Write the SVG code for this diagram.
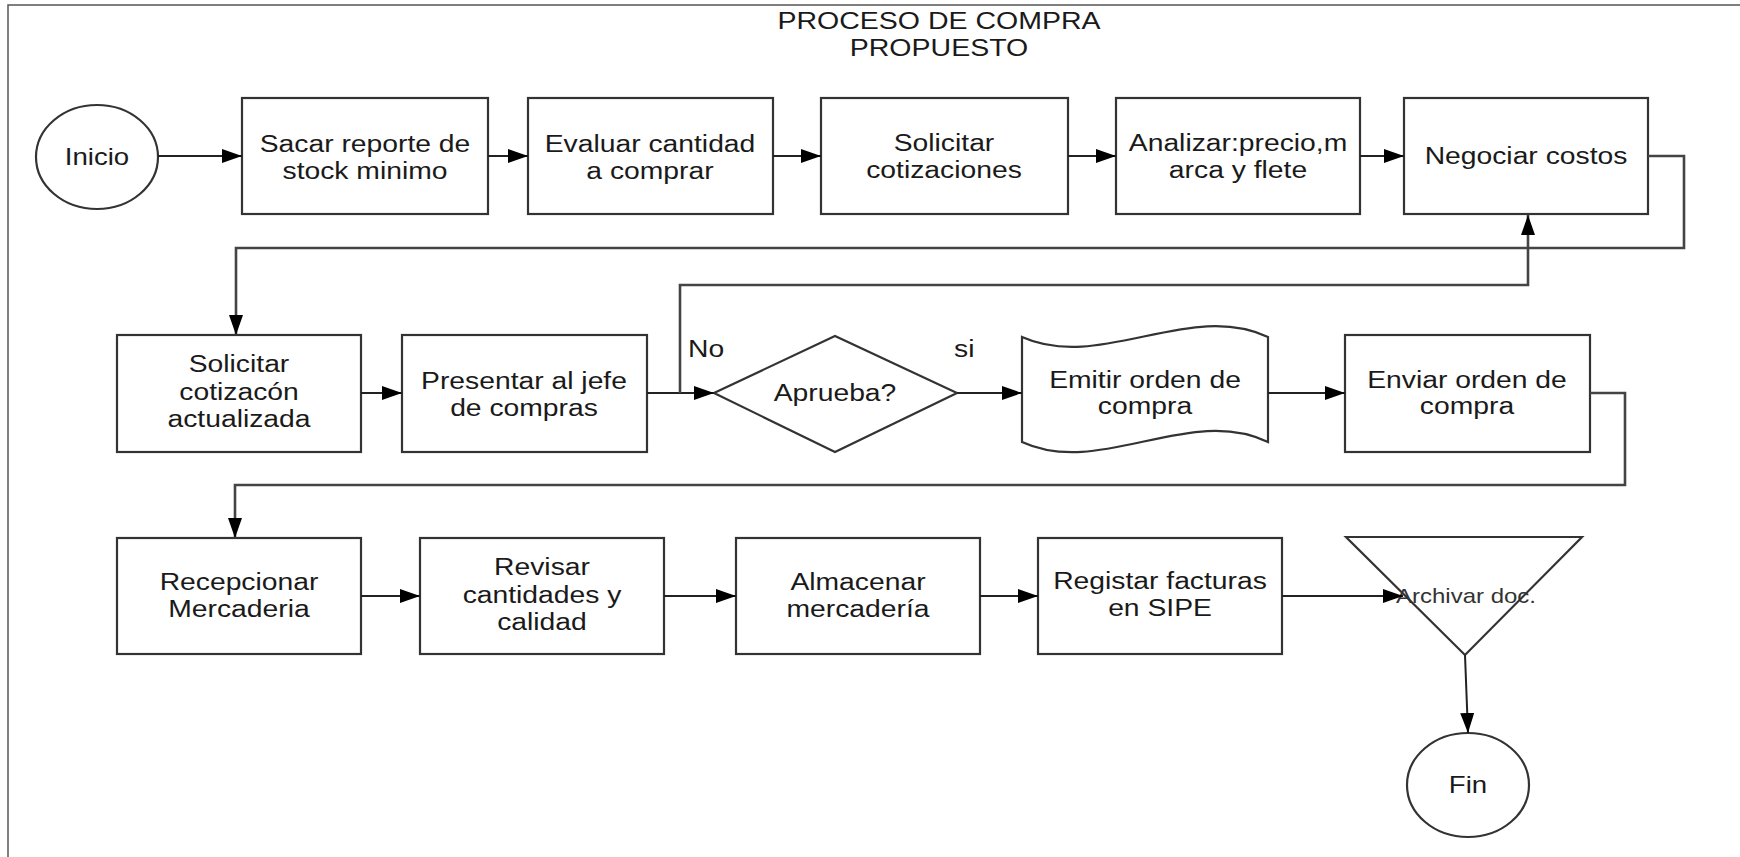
<svg xmlns="http://www.w3.org/2000/svg" width="1740" height="857" viewBox="0 0 1740 857">
<style>
.bg{fill:#fff}
.frame{fill:none;stroke:#555;stroke-width:1.5}
.box{fill:#fff;stroke:#333;stroke-width:2.2}
.t{font-family:"Liberation Sans",Arial,Helvetica,sans-serif;font-size:23px;fill:#1a1a1a;text-anchor:middle}
.ts{font-family:"Liberation Sans",Arial,Helvetica,sans-serif;font-size:20px;fill:#333;text-anchor:middle}
.lbl{font-family:"Liberation Sans",Arial,Helvetica,sans-serif;font-size:23px;fill:#1a1a1a}
.c{fill:none;stroke:#222;stroke-width:2}
.loop{fill:none;stroke:#444;stroke-width:2.6}
</style>
<defs>
<marker id="arr" markerUnits="userSpaceOnUse" markerWidth="20" markerHeight="14" refX="20" refY="7" orient="auto">
<path d="M0,0 L20,7 L0,14 Z" fill="#000"/>
</marker>
</defs>
<rect class="bg" x="0" y="0" width="1740" height="857"/>
<path class="frame" d="M8,857 V5 H1740"/>

<g id="title">
<text class="t" fill="#222" transform="translate(939,0) scale(1.24,1)"><tspan x="0" y="29">PROCESO DE COMPRA</tspan><tspan x="0" y="56">PROPUESTO</tspan></text>
</g>

<g id="n-inicio">
<ellipse class="box" cx="97" cy="157" rx="61" ry="52"/>
<text class="t" transform="translate(97,0) scale(1.2,1)" x="0" y="165">Inicio</text>
</g>
<g id="n-sacar">
<rect class="box" x="242" y="98" width="246" height="116"/>
<text class="t" transform="translate(365,0) scale(1.23,1)"><tspan x="0" y="152">Sacar reporte de</tspan><tspan x="0" y="179">stock minimo</tspan></text>
</g>
<g id="n-evaluar">
<rect class="box" x="528" y="98" width="245" height="116"/>
<text class="t" transform="translate(650,0) scale(1.23,1)"><tspan x="0" y="152">Evaluar cantidad</tspan><tspan x="0" y="179">a comprar</tspan></text>
</g>
<g id="n-solicitar">
<rect class="box" x="821" y="98" width="247" height="116"/>
<text class="t" transform="translate(944,0) scale(1.23,1)"><tspan x="0" y="151">Solicitar</tspan><tspan x="0" y="178">cotizaciones</tspan></text>
</g>
<g id="n-analizar">
<rect class="box" x="1116" y="98" width="244" height="116"/>
<text class="t" transform="translate(1238,0) scale(1.23,1)"><tspan x="0" y="151">Analizar:precio,m</tspan><tspan x="0" y="178">arca y flete</tspan></text>
</g>
<g id="n-negociar">
<rect class="box" x="1404" y="98" width="244" height="116"/>
<text class="t" transform="translate(1526,0) scale(1.23,1)" x="0" y="164">Negociar costos</text>
</g>

<g id="n-solicitar2">
<rect class="box" x="117" y="335" width="244" height="117"/>
<text class="t" transform="translate(239,0) scale(1.23,1)"><tspan x="0" y="372">Solicitar</tspan><tspan x="0" y="400">cotizacón</tspan><tspan x="0" y="427">actualizada</tspan></text>
</g>
<g id="n-presentar">
<rect class="box" x="402" y="335" width="245" height="117"/>
<text class="t" transform="translate(524,0) scale(1.23,1)"><tspan x="0" y="389">Presentar al jefe</tspan><tspan x="0" y="416">de compras</tspan></text>
</g>
<g id="n-aprueba">
<polygon class="box" points="714,393 835,336 957,393 835,452"/>
<text class="t" transform="translate(835,0) scale(1.23,1)" x="0" y="401">Aprueba?</text>
<text class="lbl" transform="translate(688,0) scale(1.23,1)" x="0" y="357">No</text>
<text class="lbl" transform="translate(954,0) scale(1.23,1)" x="0" y="357">si</text>
</g>
<g id="n-emitir">
<path class="box" d="M1022,337 C1100,372 1190,300 1268,337 L1268,442 C1190,404 1100,478 1022,442 Z"/>
<text class="t" transform="translate(1145,0) scale(1.23,1)"><tspan x="0" y="388">Emitir orden de</tspan><tspan x="0" y="414">compra</tspan></text>
</g>
<g id="n-enviar">
<rect class="box" x="1345" y="335" width="245" height="117"/>
<text class="t" transform="translate(1467,0) scale(1.23,1)"><tspan x="0" y="388">Enviar orden de</tspan><tspan x="0" y="414">compra</tspan></text>
</g>

<g id="n-recepcionar">
<rect class="box" x="117" y="538" width="244" height="116"/>
<text class="t" transform="translate(239,0) scale(1.23,1)"><tspan x="0" y="590">Recepcionar</tspan><tspan x="0" y="617">Mercaderia</tspan></text>
</g>
<g id="n-revisar">
<rect class="box" x="420" y="538" width="244" height="116"/>
<text class="t" transform="translate(542,0) scale(1.23,1)"><tspan x="0" y="575">Revisar</tspan><tspan x="0" y="603">cantidades y</tspan><tspan x="0" y="630">calidad</tspan></text>
</g>
<g id="n-almacenar">
<rect class="box" x="736" y="538" width="244" height="116"/>
<text class="t" transform="translate(858,0) scale(1.23,1)"><tspan x="0" y="590">Almacenar</tspan><tspan x="0" y="617">mercadería</tspan></text>
</g>
<g id="n-registar">
<rect class="box" x="1038" y="538" width="244" height="116"/>
<text class="t" transform="translate(1160,0) scale(1.23,1)"><tspan x="0" y="589">Registar facturas</tspan><tspan x="0" y="616">en SIPE</tspan></text>
</g>
<g id="n-archivar">
<polygon class="box" style="fill:none" points="1346,537 1582,537 1465,655"/>
<text class="ts" transform="translate(1466,0) scale(1.2,1)" x="0" y="603">Archivar doc.</text>
</g>
<g id="n-fin">
<ellipse class="box" cx="1468" cy="785" rx="61" ry="52"/>
<text class="t" transform="translate(1468,0) scale(1.2,1)" x="0" y="793">Fin</text>
</g>

<g id="connectors">
<path class="c" d="M158,156 H242" marker-end="url(#arr)"/>
<path class="c" d="M488,156 H528" marker-end="url(#arr)"/>
<path class="c" d="M773,156 H821" marker-end="url(#arr)"/>
<path class="c" d="M1068,156 H1116" marker-end="url(#arr)"/>
<path class="c" d="M1360,156 H1404" marker-end="url(#arr)"/>
<path class="loop" d="M1648,156 H1684 V248 H236 V335" marker-end="url(#arr)"/>
<path class="c" d="M361,393 H402" marker-end="url(#arr)"/>
<path class="c" d="M647,393 H714" marker-end="url(#arr)"/>
<path class="loop" d="M680,393 V285 H1528 V215" marker-end="url(#arr)"/>
<path class="c" d="M957,393 H1022" marker-end="url(#arr)"/>
<path class="c" d="M1268,393 H1345" marker-end="url(#arr)"/>
<path class="loop" d="M1590,393 H1625 V485 H235 V538" marker-end="url(#arr)"/>
<path class="c" d="M361,596 H420" marker-end="url(#arr)"/>
<path class="c" d="M664,596 H736" marker-end="url(#arr)"/>
<path class="c" d="M980,596 H1038" marker-end="url(#arr)"/>
<path class="c" d="M1282,596 H1403" marker-end="url(#arr)"/>
<path class="c" d="M1465,655 L1468,733" marker-end="url(#arr)"/>
</g>
</svg>
